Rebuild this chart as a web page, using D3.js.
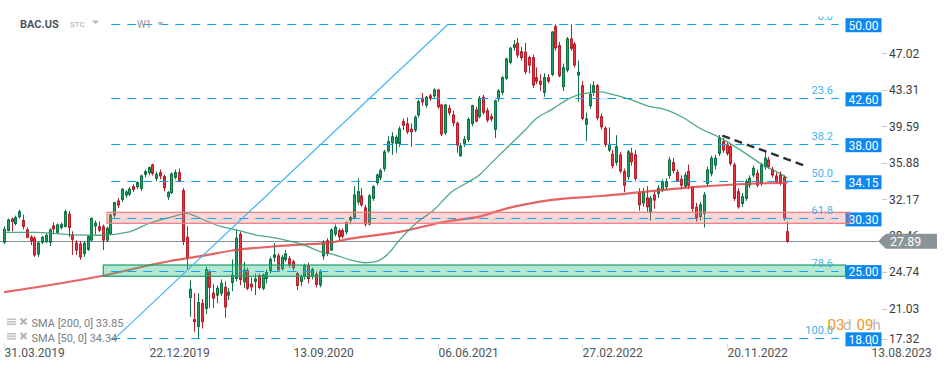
<!DOCTYPE html>
<html><head><meta charset="utf-8">
<script src="https://cdn.jsdelivr.net/npm/d3@7"></script>
<style>
html,body{margin:0;padding:0;background:#fff;}
svg{display:block;font-family:Roboto,"Noto Sans",Arial,sans-serif;}
</style></head><body>
<svg id="c" width="949" height="370"></svg>
<script>
// ---- data (weekly candles, first week stamped 31.03.2019) ----
const firstWeek = "2019-03-31";
const opens = [
27.8,29.0,30.15,29.7,30.4,30.0,29.05,28.3,28.2,26.6,
27.8,27.85,27.8,29.45,28.8,29.3,29.4,30.65,28.5,27.7,
27.6,26.65,27.07,28.02,29.45,29.37,29.37,28.02,28.7,30.56,
31.99,32.16,32.6,32.7,33.45,33.45,33.28,34.71,34.88,35.66,
34.3,34.88,34.47,32.43,32.84,34.4,34.88,33.04,28.3,22.15,
19.9,19.2,21.55,21.05,24.75,22.6,22.4,22.6,23.2,22.4,
23.7,24.1,28.6,23.75,24.9,23.5,23.8,24.4,23.1,24.1,
24.9,26.25,26.4,25.1,26.05,26.1,25.8,24.6,23.8,24.3,
25.4,24.3,24.5,23.45,26.4,27.94,27.0,28.63,28.96,28.96,
28.86,30.05,30.33,31.9,32.5,31.3,29.65,32.26,33.86,34.4,
35.3,37.1,37.93,37.87,37.87,40.07,39.84,39.3,39.23,40.75,
42.46,41.77,42.7,42.7,43.3,41.77,38.95,41.43,40.75,39.9,
36.6,37.87,38.27,39.9,41.26,40.6,42.56,41.19,40.58,39.3,
42.4,43.07,44.5,46.13,47.65,48.06,47.2,47.15,46.6,46.6,
44.56,44.2,43.07,44.56,44.9,49.75,47.82,43.64,45.34,48.5,
47.96,44.83,43.74,39.81,41.7,43.07,43.74,40.58,39.4,37.19,
36.75,35.93,36.68,34.98,34.47,36.85,36.7,32.8,31.8,32.3,
30.9,32.6,32.77,33.11,33.45,34.6,35.9,34.9,34.2,33.5,
35.0,33.4,31.35,30.4,30.74,33.79,34.81,35.66,36.85,38.04,
37.7,37.52,35.66,32.94,31.75,32.26,33.62,34.64,34.81,33.79,
35.49,36.17,35.22,34.54,34.64,34.41,28.86];
const highs = [
29.4,30.2,30.3,30.5,31.1,30.6,29.3,28.5,28.4,27.9,
28.4,28.7,29.2,29.8,29.7,29.8,31.1,31.0,28.9,28.0,
27.9,27.9,28.5,30.3,30.0,29.9,29.6,29.4,30.7,31.9,
32.3,33.3,33.1,33.4,33.7,34.0,34.7,35.2,35.5,35.8,
35.0,35.2,34.7,33.0,34.9,35.2,35.3,33.3,29.4,23.9,
22.6,22.6,22.0,25.3,25.0,23.5,23.4,24.0,23.8,23.1,
26.05,29.1,28.85,25.8,25.2,24.2,24.6,24.6,24.6,25.0,
26.3,27.7,26.7,26.5,27.0,26.4,26.0,24.8,24.5,25.6,
25.7,25.2,24.8,25.0,28.0,28.2,29.2,29.6,29.2,29.2,
29.9,30.5,33.5,34.3,33.3,31.6,32.7,33.6,34.8,35.3,
37.2,38.6,39.0,38.7,39.6,40.4,40.5,39.9,40.7,42.3,
43.0,42.7,42.9,43.48,43.4,41.9,41.9,41.8,41.2,40.1,
37.9,38.6,40.5,41.8,41.6,42.7,42.8,41.5,40.9,42.3,
43.4,44.7,46.6,47.7,48.4,48.6,47.7,48.1,46.8,46.9,
45.6,44.9,45.0,44.9,49.3,50.0,48.2,46.0,48.7,50.0,
48.2,46.3,44.2,41.0,43.9,44.2,43.9,40.9,39.6,39.5,
37.2,38.7,37.0,35.3,37.2,37.4,37.2,33.3,33.3,33.5,
32.5,33.0,33.6,34.2,34.3,36.5,36.4,35.2,34.6,34.9,
35.7,33.5,31.8,31.9,32.9,35.5,36.6,36.7,38.72,38.4,
38.0,37.8,35.9,33.3,32.8,34.2,34.6,35.6,35.2,35.9,
37.0,36.5,35.5,34.9,35.0,34.6,29.9];
const lows = [
27.6,28.9,28.9,29.5,30.2,29.1,28.2,27.5,26.3,26.3,
27.6,27.7,27.4,28.6,28.7,29.1,29.3,28.3,26.5,26.5,
26.0,26.3,26.9,27.9,28.6,28.8,27.0,27.8,28.5,30.3,
31.3,31.9,32.3,32.5,32.9,33.2,33.0,34.4,34.6,34.6,
34.0,34.2,33.0,32.1,32.7,34.2,33.9,27.5,25.0,20.2,
18.67,18.0,19.0,20.5,21.1,21.1,21.6,22.3,20.1,21.9,
22.8,23.8,23.4,23.1,22.9,22.8,22.4,23.0,22.9,23.6,
24.6,25.8,24.8,24.9,25.8,25.2,24.9,22.9,23.3,24.0,
23.6,24.0,23.2,23.2,26.0,26.4,26.9,28.4,28.0,28.2,
28.6,29.6,30.1,31.6,31.4,29.4,29.5,32.0,33.6,34.1,
35.0,36.9,36.7,36.9,37.5,39.2,38.8,37.5,39.0,40.5,
41.7,41.5,42.2,42.5,41.4,38.6,38.7,40.7,39.6,36.9,
36.5,37.5,38.0,39.6,40.0,40.4,40.8,40.0,40.1,38.4,
42.1,42.8,44.3,45.9,47.3,46.6,46.3,44.9,45.0,43.5,
43.9,43.2,42.6,44.0,44.7,47.3,44.6,43.2,45.1,47.3,
45.6,42.1,40.2,38.1,41.4,42.7,40.2,39.3,37.5,37.0,
35.3,35.6,34.8,32.9,34.1,35.6,34.0,31.0,31.4,30.9,
30.0,31.2,32.3,32.9,33.1,34.3,34.8,33.9,33.2,33.3,
33.2,30.9,29.9,30.0,29.3,33.5,34.5,35.2,36.6,36.9,
36.6,35.6,32.0,31.2,31.4,32.0,33.3,34.4,33.4,33.5,
35.2,35.3,34.4,33.8,33.6,30.0,27.74];
const closes = [
29.1,30.05,29.9,30.3,30.9,29.4,28.3,27.95,26.5,27.7,
28.3,28.5,29.05,29.15,29.55,29.6,30.9,29.3,28.1,27.0,
26.3,27.68,28.35,30.22,29.72,29.03,28.02,29.2,30.56,31.82,
31.58,33.18,32.9,33.2,33.18,33.86,34.54,34.98,35.39,34.81,
34.71,34.54,33.35,32.84,34.74,34.88,34.06,27.9,26.2,23.0,
19.7,21.65,19.7,25.0,23.2,22.1,23.1,23.6,21.2,22.7,
24.45,28.2,24.0,24.95,23.1,23.25,24.05,23.2,24.45,24.7,
26.05,26.5,25.0,26.25,26.6,25.5,25.2,23.4,24.3,25.4,
24.1,25.0,23.5,24.8,27.8,26.66,29.03,29.3,28.35,28.42,
29.78,30.3,32.6,32.94,31.6,29.65,32.5,33.45,34.64,35.08,
37.0,38.03,38.54,38.47,39.33,39.73,39.05,39.05,40.52,42.11,
42.11,42.56,42.46,43.3,41.6,38.82,41.77,40.99,39.97,37.7,
37.6,38.27,40.3,41.7,40.14,42.46,41.03,40.24,40.35,42.18,
43.2,44.56,46.46,47.55,47.9,46.87,46.6,45.17,45.85,43.82,
44.2,43.88,44.56,44.2,49.2,47.6,44.76,45.58,48.5,47.55,
45.85,45.1,40.42,40.35,42.86,43.74,40.48,39.56,37.77,37.77,
35.59,37.52,35.05,33.6,37.0,36.0,34.3,31.6,32.9,31.4,
32.26,32.09,33.28,33.96,33.96,36.17,35.1,34.0,33.6,34.6,
33.6,31.24,30.23,31.6,32.6,35.15,36.35,36.35,38.38,37.19,
36.85,35.83,32.26,31.41,32.43,33.96,34.3,35.32,33.62,35.66,
36.35,35.49,34.64,33.96,33.79,30.23,27.89];

// moving averages sampled at week indices: [week, value]
const sma200 = [[0,22.7],[25,24.3],[44,25.9],[52,26.4],[61,27.0],[70,27.33],[78,27.55],[85,27.7],[91,28.15],[104,28.85],[117,29.95],[125,30.4],[131,31.1],[144,32.1],[157,32.5],[170,33.0],[183,33.45],[196,33.75],[206,33.85]];
const sma50 = [[0,28.8],[8,28.8],[16,28.6],[25,28.5],[33,28.85],[38,29.7],[44,30.35],[48,30.74],[50,30.5],[53,30.0],[57,29.4],[61,29.05],[66,28.55],[70,28.3],[74,28.0],[79,27.5],[83,26.85],[87,26.5],[91,26.0],[95,25.7],[98,25.85],[101,26.6],[104,28.0],[108,29.6],[113,31.07],[118,33.0],[122,33.9],[125,34.65],[128,35.8],[133,37.7],[137,39.2],[140,40.4],[144,41.3],[149,42.5],[152,42.9],[157,43.1],[160,42.85],[165,42.3],[170,41.6],[173,41.4],[179,40.4],[183,39.4],[188,38.5],[194,37.1],[199,35.8],[204,34.8],[206,34.34]];

// Fibonacci tool (anchor 18.00 -> 50.00)
const fibRatios = ["0.0","23.6","38.2","50.0","61.8","78.6","100.0"];
const fibValues = [50.0,42.45,37.78,34.0,30.22,24.85,18.0];
const fibBoxLabels = ["50.00","42.60","38.00","34.15","30.30","25.00","18.00"];
const fibSpan = [28.2, 219.5];        // week indices of level lines
const fibDiagonal = [[29.2,18.0],[116.8,50.0]];
// zones
const resistanceZone = {from:27.1, to:222.4, lo:29.72, hi:30.84};
const supportZone = {from:26.1, to:221.3, lo:24.32, hi:25.47};
// trend line
const trendLine = [[188.9,38.65],[210.8,35.56]];
// last price
const lastPrice = 27.89;
// axes
const priceTicks = [47.02,43.31,39.59,35.88,32.17,28.46,24.74,21.03,17.32];
const dateTicks = ["2019-03-31","2019-12-22","2020-09-13","2021-06-06","2022-02-27","2022-11-20","2023-08-13"];
const legendRows = ["SMA [200, 0] 33.85","SMA [50, 0] 34.34"];

// ---- scales ----
const svg = d3.select("#c");
const DAY = 864e5;
const t0 = new Date(firstWeek + "T00:00:00Z").getTime();
const dateOf = i => new Date(t0 + i * 7 * DAY);
const x = d3.scaleUtc().domain([new Date("2019-03-31T00:00:00Z"), new Date("2023-08-13T00:00:00Z")]).range([4, 871]);
const xi = i => x(dateOf(i));
const y = d3.scaleLinear().domain([17.32, 52.47]).range([345, 0]);

svg.append("defs").append("clipPath").attr("id","plotclip")
  .append("rect").attr("x",0).attr("y",16.5).attr("width",949).attr("height",330);

// last price line
const yl = Math.round(y(lastPrice)) + 0.5;
svg.append("line").attr("x1",0).attr("x2",878).attr("y1",yl).attr("y2",yl)
  .attr("stroke","#85919a").attr("stroke-width",1);

// candles
const candles = d3.range(opens.length).map(i => ({i, o:opens[i], h:highs[i], l:lows[i], c:closes[i]}));
const cg = svg.append("g");
candles.forEach(d => {
  const up = d.c >= d.o;
  const cx = Math.round(xi(d.i));
  const dark = up ? "#0e7444" : "#b81f2b";
  const fill = up ? "#22a166" : "#ec3440";
  const hi = Math.max(d.h, d.o, d.c), lo = Math.min(d.l, d.o, d.c);
  cg.append("line").attr("x1",cx+0.5).attr("x2",cx+0.5)
    .attr("y1",y(hi)).attr("y2",y(lo)).attr("stroke",dark).attr("stroke-width",1);
  const yt = y(Math.max(d.o,d.c)), yb = y(Math.min(d.o,d.c));
  cg.append("rect").attr("x",cx-0.5).attr("y",yt).attr("width",2)
    .attr("height",Math.max(yb-yt,1)).attr("fill",fill).attr("stroke",dark).attr("stroke-width",1);
});

// moving averages
const maLine = d3.line().x(d => xi(d[0])).y(d => y(d[1])).curve(d3.curveMonotoneX);
svg.append("path").attr("d",maLine(sma200)).attr("fill","none")
  .attr("stroke","#e04848").attr("stroke-width",2.2).attr("stroke-opacity",0.85);
svg.append("path").attr("d",maLine(sma50)).attr("fill","none")
  .attr("stroke","#2f9a68").attr("stroke-width",1.3).attr("stroke-opacity",0.85);

// zones
function zone(z, fill, stroke){
  svg.append("rect").attr("x",xi(z.from)).attr("y",y(z.hi))
    .attr("width",xi(z.to)-xi(z.from)).attr("height",y(z.lo)-y(z.hi))
    .attr("fill",fill).attr("stroke",stroke).attr("stroke-width",1.2);
}

// fib price boxes (drawn under zones)
const boxG = svg.append("g");
fibValues.forEach((v,k) => {
  const yy = y(v) + 1;
  boxG.append("rect").attr("x",845.5).attr("y",yy-7).attr("width",36).attr("height",14).attr("fill","#0b88f2");
  boxG.append("text").attr("x",863.5).attr("y",yy).attr("dy","0.36em").attr("text-anchor","middle")
    .attr("font-size",12).attr("fill","#fff").text(fibBoxLabels[k]);
});

zone(resistanceZone, "rgba(240,110,110,0.28)", "#ea7b7b");
zone(supportZone, "rgba(40,190,130,0.35)", "#1a9e68");

// fib level lines + labels
const fibG = svg.append("g").attr("clip-path","url(#plotclip)");
fibValues.forEach((v,k) => {
  const yy = Math.round(y(v)) + 0.5;
  fibG.append("line").attr("x1",xi(fibSpan[0])).attr("x2",xi(fibSpan[1])).attr("y1",yy).attr("y2",yy)
    .attr("stroke","#12a4f2").attr("stroke-width",1).attr("stroke-dasharray","9,7");
  fibG.append("text").attr("x",833).attr("y",yy-5).attr("text-anchor","end")
    .attr("font-size",11).attr("fill","#3fb3f0").text(fibRatios[k]);
});
fibG.append("line").attr("x1",xi(fibDiagonal[0][0])).attr("y1",y(fibDiagonal[0][1]))
  .attr("x2",xi(fibDiagonal[1][0])).attr("y2",y(fibDiagonal[1][1]))
  .attr("stroke","#45b5f2").attr("stroke-width",1.2);

// trend line
svg.append("line").attr("x1",xi(trendLine[0][0])).attr("y1",y(trendLine[0][1]))
  .attr("x2",xi(trendLine[1][0])).attr("y2",y(trendLine[1][1]))
  .attr("stroke","#2b2f33").attr("stroke-width",2.4).attr("stroke-dasharray","8,5");

// right price axis
priceTicks.forEach(v => {
  const yy = Math.min(y(v), 339);
  svg.append("line").attr("x1",882).attr("x2",887).attr("y1",Math.round(yy)+0.5).attr("y2",Math.round(yy)+0.5)
    .attr("stroke","#c8c8c8");
  svg.append("text").attr("x",889).attr("y",yy).attr("dy","0.36em")
    .attr("font-size",12).attr("fill","#3a3d40").text(v.toFixed(2));
});

// last price tag
const yp = y(lastPrice);
svg.append("path").attr("d",`M878,${yp} L886,${yp-7.5} L937,${yp-7.5} L937,${yp+7.5} L886,${yp+7.5} Z`)
  .attr("fill","#8a9398");
svg.append("text").attr("x",890).attr("y",yp).attr("dy","0.36em").attr("font-size",12.5)
  .attr("fill","#fff").text(lastPrice.toFixed(2));

// date axis
const fmt = d3.utcFormat("%d.%m.%Y");
dateTicks.forEach(s => {
  const d = new Date(s + "T00:00:00Z");
  const xx = Math.round(x(d)) + 0.5;
  svg.append("line").attr("x1",xx).attr("x2",xx).attr("y1",343).attr("y2",349).attr("stroke","#dcdcdc");
  svg.append("text").attr("x",xx).attr("y",357).attr("font-size",12).attr("fill","#4f5356").text(fmt(d));
});

// countdown
const cd = [["03",827.5,"#f7941d"],["d",843,"#b9b9b9"],["09",856.5,"#f7941d"],["h",872.5,"#b9b9b9"]];
cd.forEach(c => svg.append("text").attr("x",c[1]).attr("y",330).attr("font-size",15).attr("fill",c[2]).text(c[0]));

// legend
legendRows.forEach((t,k) => {
  const by = 327 + k*14.5;
  const g = svg.append("g");
  [0,2.5,5].forEach(o => g.append("rect").attr("x",7).attr("y",by-8.5+o).attr("width",9).attr("height",1.6).attr("fill","#c2c2c2"));
  g.append("path").attr("d",`M20.5,${by-8.5} L26.5,${by-2.5} M26.5,${by-8.5} L20.5,${by-2.5}`)
    .attr("stroke","#b4b4b4").attr("stroke-width",2);
  g.append("text").attr("x",31.5).attr("y",by).attr("font-size",11).attr("fill","#7b7e80").text(t);
});

// header
svg.append("text").attr("x",20).attr("y",28).attr("font-size",11).attr("font-weight","bold").attr("fill","#4b5560").text("BAC.US");
svg.append("text").attr("x",70).attr("y",27).attr("font-size",8).attr("fill","#a4acb4").text("STC");
svg.append("path").attr("d","M92,20.5 L99,20.5 L95.5,24 Z").attr("fill","#b3b9bf");
svg.append("text").attr("x",137).attr("y",27.5).attr("font-size",10).attr("fill","#8d939a").text("W1");
svg.append("path").attr("d","M157,22 L164,22 L160.5,25.5 Z").attr("fill","#b3b9bf");
</script>
</body></html>
